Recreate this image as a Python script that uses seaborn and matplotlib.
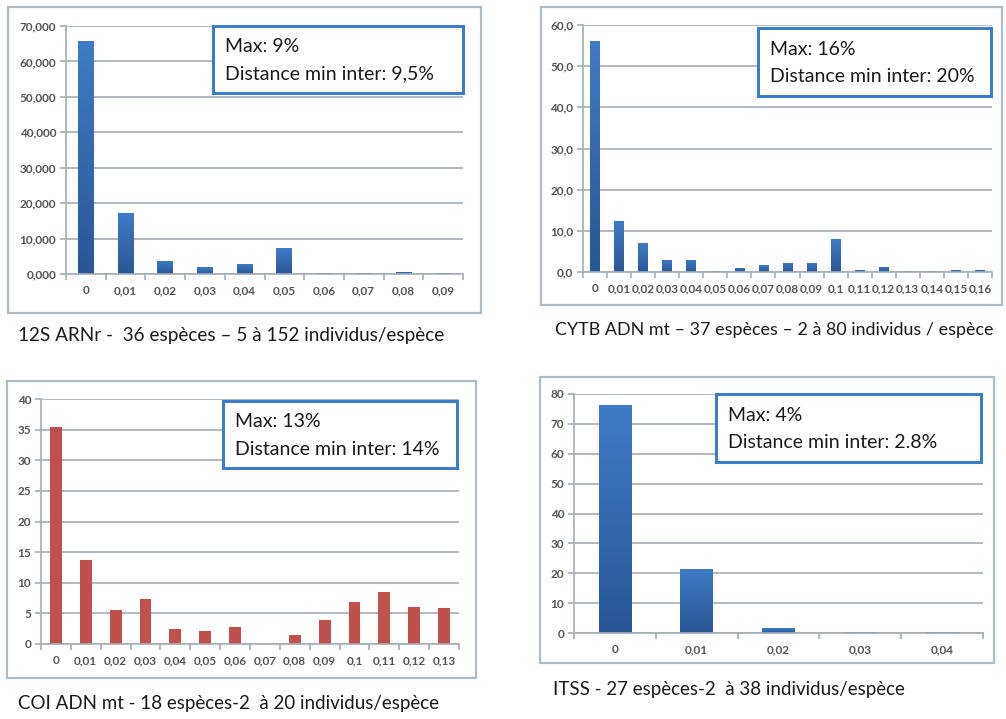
import matplotlib
matplotlib.use("Agg")
import matplotlib.pyplot as plt
from matplotlib.patches import Rectangle
from matplotlib.ticker import FuncFormatter, FixedLocator, NullFormatter
from matplotlib.colors import LinearSegmentedColormap
import seaborn as sns
import numpy as np

# ---------------- data ----------------
cat_12s = ["0", "0,01", "0,02", "0,03", "0,04", "0,05", "0,06", "0,07", "0,08", "0,09"]
val_12s = [65.7, 17.1, 3.8, 1.9, 2.9, 7.3, 0.4, 0.4, 0.7, 0.4]

cat_cytb = ["0", "0,01", "0,02", "0,03", "0,04", "0,05", "0,06", "0,07", "0,08", "0,09",
            "0,1", "0,11", "0,12", "0,13", "0,14", "0,15", "0,16"]
val_cytb = [56.0, 12.5, 7.0, 3.0, 3.0, 0.3, 1.0, 1.6, 2.2, 2.2, 8.0, 0.6, 1.3, 0.3, 0.3, 0.5, 0.5]

cat_coi = ["0", "0,01", "0,02", "0,03", "0,04", "0,05", "0,06", "0,07", "0,08", "0,09",
           "0,1", "0,11", "0,12", "0,13"]
val_coi = [35.4, 13.7, 5.6, 7.3, 2.4, 2.1, 2.7, 0.0, 1.4, 3.9, 6.8, 8.5, 6.1, 5.9]

cat_itss = ["0", "0,01", "0,02", "0,03", "0,04"]
val_itss = [76.3, 21.5, 1.6, 0.4, 0.4]

captions = ["12S ARNr -  36 espèces – 5 à 152 individus/espèce",
            "CYTB ADN mt – 37 espèces – 2 à 80 individus / espèce",
            "COI ADN mt - 18 espèces-2  à 20 individus/espèce",
            "ITSS - 27 espèces-2  à 38 individus/espèce"]
box_texts = [("Max: 9%", "Distance min inter: 9,5%"),
             ("Max: 16%", "Distance min inter: 20%"),
             ("Max: 13%", "Distance min inter: 14%"),
             ("Max: 4%", "Distance min inter: 2.8%")]

# ---------------- style ----------------
sns.set_theme(style="white")
plt.rcParams['font.family'] = ['Lato', 'DejaVu Sans']

W, H = 1006, 719
fig = plt.figure(figsize=(W / 100, H / 100), dpi=100)
fig.patch.set_facecolor("white")

def fx(x):
    return x / W

def fy(y):
    return 1 - y / H

def rect_px(x0, y0, x1, y1):
    return [fx(x0), fy(y1), fx(x1) - fx(x0), fy(y0) - fy(y1)]

BLUE = "#3868B0"
RED = "#C0504D"
GRID = "#A3AEB8"
FRAME = "#AEBCC8"
BOXBLUE = "#3D7CC9"
TXT = "#555555"

blue_grad = LinearSegmentedColormap.from_list("bg", ["#2A5796", "#3F7BC6"])

panels = [
    dict(cats=cat_12s, vals=val_12s, color=BLUE, grad=True, ymax=70, step=10, fmt="{:.3f}",
         frame=(8, 7, 481, 313), ax=(66, 26, 463, 274), box=(213, 26, 463, 93),
         cap=(18, 336), cs=13.6, ts=8.5),
    dict(cats=cat_cytb, vals=val_cytb, color=BLUE, grad=True, ymax=60, step=10, fmt="{:.1f}",
         frame=(541, 7, 1002, 305), ax=(583, 25, 992, 272), box=(758, 28, 991, 96),
         cap=(555, 330), cs=12.9, ts=8.5),
    dict(cats=cat_coi, vals=val_coi, color=RED, grad=False, ymax=40, step=5, fmt="{:.0f}",
         frame=(7, 381, 476, 678), ax=(41, 399, 459, 644), box=(223, 401, 457, 468),
         cap=(18, 703), cs=13.5, ts=8.5),
    dict(cats=cat_itss, vals=val_itss, color=BLUE, grad=True, ymax=80, step=10, fmt="{:.0f}",
         frame=(540, 377, 994, 663), ax=(574, 394, 983, 633), box=(716, 394, 981, 462),
         cap=(553, 690), cs=13.5, ts=8.5),
]

for i, p in enumerate(panels):
    # outer chart frame
    fx0, fy0, fx1, fy1 = p["frame"]
    fig.patches.append(Rectangle((fx(fx0), fy(fy1)), fx(fx1) - fx(fx0), fy(fy0) - fy(fy1),
                                 transform=fig.transFigure, fill=False,
                                 edgecolor=FRAME, linewidth=1.6, zorder=0))
    ax = fig.add_axes(rect_px(*p["ax"]))
    ax.set_facecolor("none")
    sns.barplot(x=p["cats"], y=p["vals"], color=p["color"], width=0.4,
                saturation=1, ax=ax, edgecolor="none", order=p["cats"])
    n = len(p["cats"])
    ax.set_xlim(-0.5, n - 0.5)
    ax.set_ylim(0, p["ymax"])

    # vertical gradient fill inside each bar (darker at the base)
    if p["grad"]:
        grad = np.linspace(0, 1, 256).reshape(-1, 1)
        for bar in list(ax.patches):
            x0 = bar.get_x()
            w = bar.get_width()
            h = bar.get_height()
            if h <= 0:
                continue
            im = ax.imshow(grad, cmap=blue_grad, origin="lower", aspect="auto",
                           extent=(x0, x0 + w, 0, h), zorder=bar.get_zorder() + 0.1,
                           interpolation="bilinear")
            im.set_clip_path(bar)
        ax.set_xlim(-0.5, n - 0.5)
        ax.set_ylim(0, p["ymax"])
        ax.set_aspect("auto")

    yt = np.arange(0, p["ymax"] + 0.001, p["step"])
    ax.set_yticks(yt)
    ax.yaxis.set_major_formatter(FuncFormatter(lambda v, pos, f=p["fmt"]: f.format(v).replace(".", ",")))
    ax.grid(axis="y", color=GRID, linewidth=1.2)
    ax.set_axisbelow(True)
    for s in ["top", "right"]:
        ax.spines[s].set_visible(False)
    for s in ["left", "bottom"]:
        ax.spines[s].set_color(GRID)
        ax.spines[s].set_linewidth(1.2)
    ax.tick_params(axis="y", which="major", length=4, color=GRID, width=1.2,
                   labelsize=p["ts"], labelcolor=TXT, pad=3, left=True)
    ax.tick_params(axis="x", which="major", length=0, labelsize=p["ts"],
                   labelcolor=TXT, pad=8)
    ax.xaxis.set_minor_locator(FixedLocator(np.arange(-0.5, n, 1.0)))
    ax.xaxis.set_minor_formatter(NullFormatter())
    ax.tick_params(axis="x", which="minor", length=4, color=GRID, width=1.2, bottom=True)
    for lab in ax.get_xticklabels() + ax.get_yticklabels():
        lab.set_fontweight("bold")
    ax.set_xlabel("")
    ax.set_ylabel("")

    # annotation box
    bx0, by0, bx1, by1 = p["box"]
    fig.patches.append(Rectangle((fx(bx0), fy(by1)), fx(bx1) - fx(bx0), fy(by0) - fy(by1),
                                 transform=fig.transFigure, facecolor="white",
                                 edgecolor=BOXBLUE, linewidth=2.2, zorder=5))
    l1, l2 = box_texts[i]
    hgt = by1 - by0
    fig.text(fx(bx0 + 12), fy(by0 + hgt * 0.31), l1, fontsize=14, color="#1a1a1a",
             va="center", ha="left", zorder=6)
    fig.text(fx(bx0 + 12), fy(by0 + hgt * 0.72), l2, fontsize=14, color="#1a1a1a",
             va="center", ha="left", zorder=6)

    # caption
    cx, cy = p["cap"]
    fig.text(fx(cx), fy(cy), captions[i], fontsize=p["cs"], color="#1a1a1a",
             va="center", ha="left")

fig.savefig("out.png", dpi=100, facecolor="white")
